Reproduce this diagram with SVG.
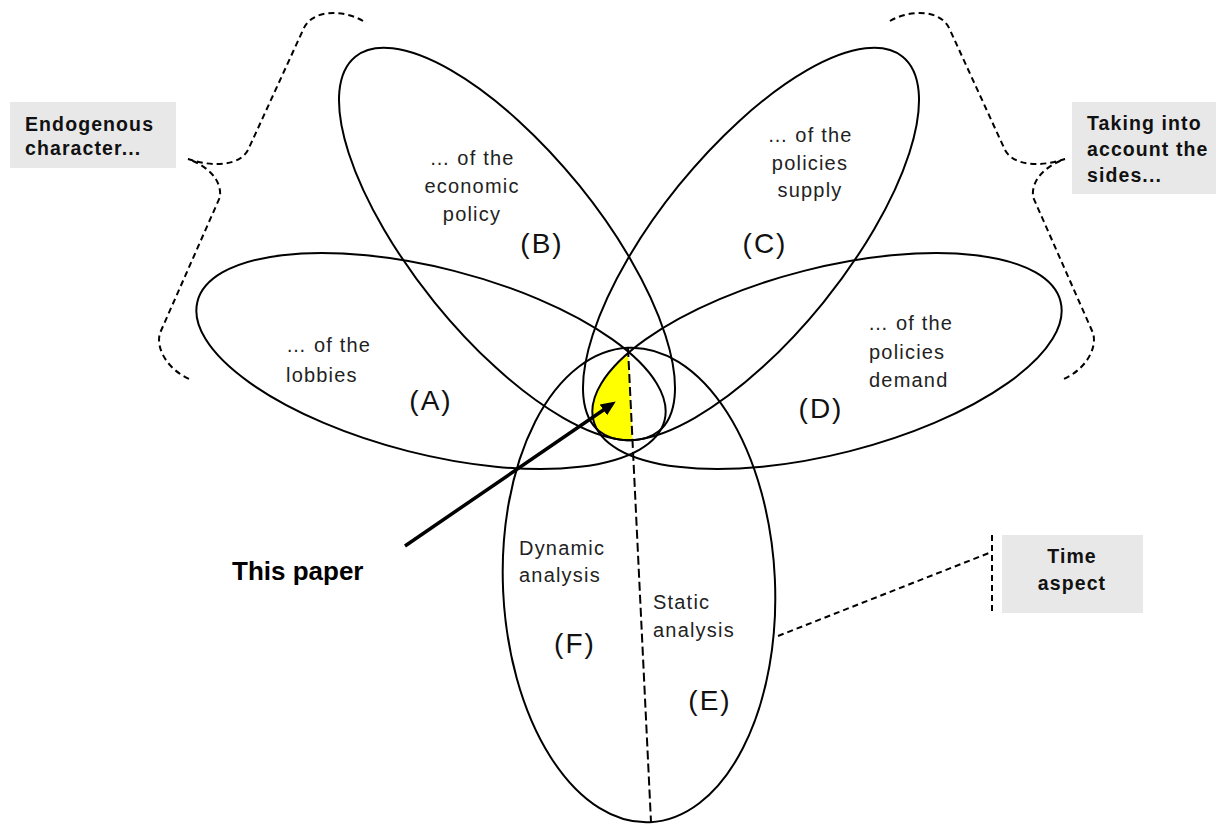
<svg xmlns="http://www.w3.org/2000/svg" width="1216" height="825" viewBox="0 0 1216 825">
<style>
  .el { fill: none; stroke: #000; stroke-width: 2; }
  .lbl { font-family: "Liberation Sans", Arial, sans-serif; font-size: 20px; letter-spacing: 1.2px; fill: #222; }
  .mid { text-anchor: middle; }
  .big { font-family: "Liberation Sans", Arial, sans-serif; font-size: 28px; letter-spacing: 2px; fill: #111; text-anchor: middle; }
  .box { fill: #e8e8e8; }
  .bt { font-family: "Liberation Sans", Arial, sans-serif; font-weight: bold; font-size: 19.5px; letter-spacing: 1.1px; fill: #111; }
  .dash { fill: none; stroke: #000; stroke-width: 2; stroke-dasharray: 6 4; }
  .axis { fill: none; stroke: #000; stroke-width: 2; stroke-dasharray: 9 4; }
</style>
<defs>
  <marker id="ah" markerUnits="userSpaceOnUse" markerWidth="16" markerHeight="14" refX="4" refY="6.5" orient="auto">
    <path d="M0,0 L15,6.5 L0,13 Z" fill="#000"/>
  </marker>
  <clipPath id="cA"><ellipse cx="431" cy="361" rx="241" ry="93" transform="rotate(14.3 431 361)"/></clipPath>
  <clipPath id="cB"><ellipse cx="507" cy="244" rx="241" ry="93" transform="rotate(51 507 244)"/></clipPath>
  <clipPath id="cC"><ellipse cx="751" cy="244" rx="241" ry="93" transform="rotate(-51 751 244)"/></clipPath>
  <clipPath id="cE"><ellipse cx="639" cy="585" rx="136" ry="237.5" transform="rotate(-2.65 639 585)"/></clipPath>
  <clipPath id="cL"><polygon points="0,0 611.1,0 651.1,825 0,825"/></clipPath>
</defs>
<rect width="1216" height="825" fill="#fff"/>

<g id="highlight">
  <g clip-path="url(#cE)"><g clip-path="url(#cB)"><g clip-path="url(#cC)"><g clip-path="url(#cA)"><g clip-path="url(#cL)">
    <ellipse cx="827" cy="361" rx="241" ry="93" transform="rotate(-14.3 827 361)" fill="#ffff00"/>
  </g></g></g></g></g>
</g>

<g id="node-A">
  <ellipse class="el" cx="431" cy="361" rx="241" ry="93" transform="rotate(14.3 431 361)"/>
  <text class="lbl" x="286" y="352">… of the</text>
  <text class="lbl" x="286" y="382">lobbies</text>
  <text class="big" x="431" y="410">(A)</text>
</g>
<g id="node-B">
  <ellipse class="el" cx="507" cy="244" rx="241" ry="93" transform="rotate(51 507 244)"/>
  <text class="lbl mid" x="472" y="165">… of the</text>
  <text class="lbl mid" x="472" y="193">economic</text>
  <text class="lbl mid" x="472" y="221">policy</text>
  <text class="big" x="542" y="253">(B)</text>
</g>
<g id="node-C">
  <ellipse class="el" cx="751" cy="244" rx="241" ry="93" transform="rotate(-51 751 244)"/>
  <text class="lbl mid" x="810" y="142">… of the</text>
  <text class="lbl mid" x="810" y="170">policies</text>
  <text class="lbl mid" x="810" y="197">supply</text>
  <text class="big" x="765" y="253">(C)</text>
</g>
<g id="node-D">
  <ellipse class="el" cx="827" cy="361" rx="241" ry="93" transform="rotate(-14.3 827 361)"/>
  <text class="lbl" x="868" y="330">… of the</text>
  <text class="lbl" x="869" y="359">policies</text>
  <text class="lbl" x="869" y="387">demand</text>
  <text class="big" x="821" y="418">(D)</text>
</g>
<g id="node-E">
  <ellipse class="el" cx="639" cy="585" rx="136" ry="237.5" transform="rotate(-2.65 639 585)"/>
  <text class="lbl" x="519" y="555">Dynamic</text>
  <text class="lbl" x="519" y="582">analysis</text>
  <text class="big" x="575" y="653">(F)</text>
  <text class="lbl" x="653" y="609">Static</text>
  <text class="lbl" x="653" y="637">analysis</text>
  <text class="big" x="710" y="710">(E)</text>
</g>

<g id="label-endogenous">
  <rect class="box" x="10" y="102" width="166" height="66"/>
  <text class="bt" x="25" y="131">Endogenous</text>
  <text class="bt" x="25" y="155">character...</text>
</g>
<g id="label-sides">
  <rect class="box" x="1072" y="102" width="150" height="92"/>
  <text class="bt" x="1087" y="130">Taking into</text>
  <text class="bt" x="1087" y="156">account the</text>
  <text class="bt" x="1087" y="182">sides...</text>
</g>
<g id="label-time">
  <rect class="box" x="1002" y="535" width="141" height="78"/>
  <text class="bt" x="1072" y="563" text-anchor="middle">Time</text>
  <text class="bt" x="1072" y="590" text-anchor="middle">aspect</text>
</g>
<g id="label-paper">
  <text x="232" y="580" font-family="Liberation Sans, Arial, sans-serif" font-weight="bold" font-size="26" fill="#000">This paper</text>
</g>

<g id="connectors">
  <path class="axis" d="M628,348 L651,822"/>
  <line x1="405" y1="546" x2="606.7" y2="407.7" stroke="#000" stroke-width="3.5" marker-end="url(#ah)"/>
  <path id="brace-left" class="dash" d="M363,21 C345,10 312,8 303,30 L248,150 C240,165 215,168 188,159 C205,165 222,178 220,197 L160,333 C155,350 170,372 192,380"/>
  <path id="brace-right" class="dash" transform="translate(1253,0) scale(-1,1)" d="M363,21 C345,10 312,8 303,30 L248,150 C240,165 215,168 188,159 C205,165 222,178 220,197 L160,333 C155,350 170,372 192,380"/>
  <path class="dash" d="M778,636 L989,553"/>
  <path class="dash" stroke-width="1.5" d="M992,535 L992,613"/>
</g>
</svg>
